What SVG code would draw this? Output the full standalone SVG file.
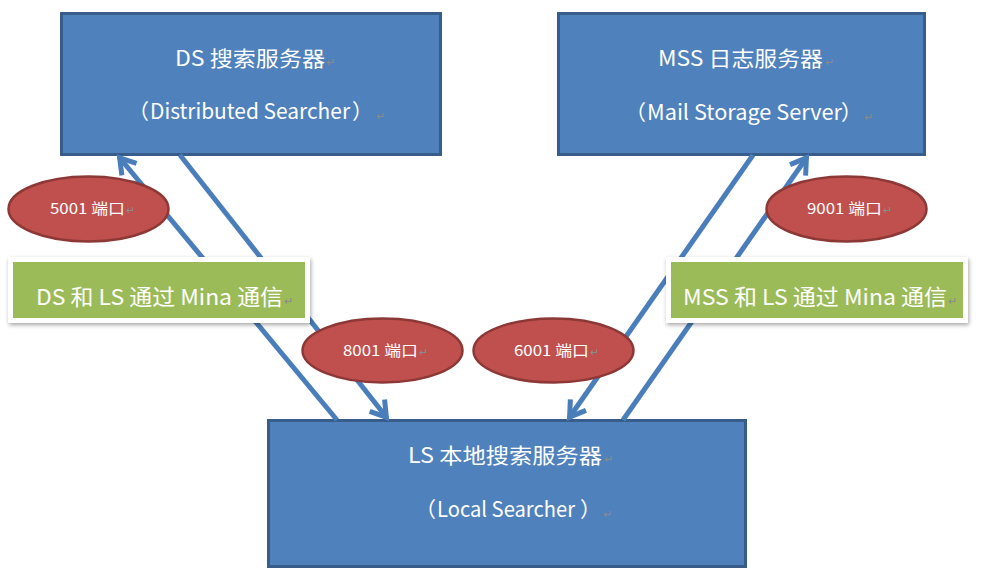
<svg xmlns="http://www.w3.org/2000/svg" width="985" height="580" viewBox="0 0 985 580">
<style>
.box{fill:#4f81bd;stroke:#385d8a;stroke-width:3}
.port{fill:#c0504d;stroke:#8c3836;stroke-width:2.5}
.note{fill:#9bbb59}
.noteBg{fill:#ffffff}
.conn{stroke:#4a7ebb;stroke-width:5;fill:none;stroke-linecap:butt}
text{font-family:"Noto Sans CJK SC","Noto Sans",sans-serif;fill:#ffffff}
.t20{font-size:21px}
.t15{font-size:15px}
.t21{font-size:22px}
.pm{fill:#8a8a8a;font-size:11px}
</style>
<defs>
<marker id="arr" markerUnits="userSpaceOnUse" markerWidth="30" markerHeight="30" viewBox="-20 -15 30 30" refX="1" refY="0" orient="auto">
<path d="M -15 -9.5 L 0 0 L -15 9.5" fill="none" stroke="#4a7ebb" stroke-width="5" stroke-linejoin="miter"/>
</marker>
<filter id="sh" x="-10%" y="-30%" width="120%" height="160%">
<feGaussianBlur in="SourceAlpha" stdDeviation="2"/>
<feOffset dx="1" dy="2" result="b"/>
<feComponentTransfer><feFuncA type="linear" slope="0.35"/></feComponentTransfer>
<feMerge><feMergeNode/><feMergeNode in="SourceGraphic"/></feMerge>
</filter>
</defs>
<rect width="985" height="580" fill="#ffffff"/>

<g id="ds">
<rect class="box" x="61.5" y="13.5" width="379" height="141"/>
<text class="t20" x="175" y="66" textLength="150" lengthAdjust="spacingAndGlyphs">DS 搜索服务器</text>
<text class="pm" x="326" y="66">↵</text>
<text class="t20" x="149" y="119" text-anchor="end">（</text>
<text class="t20" x="150" y="119" textLength="200" lengthAdjust="spacingAndGlyphs">Distributed Searcher</text>
<text class="t20" x="352" y="119">）</text>
<text class="pm" x="376" y="120">↵</text>
</g>

<g id="mss">
<rect class="box" x="558.5" y="13.5" width="366" height="141"/>
<text class="t20" x="658" y="66" textLength="165" lengthAdjust="spacingAndGlyphs">MSS 日志服务器</text>
<text class="pm" x="825" y="66">↵</text>
<text class="t20" x="646" y="120" text-anchor="end">（</text>
<text class="t20" x="647" y="120" textLength="195" lengthAdjust="spacingAndGlyphs">Mail Storage Server</text>
<text class="t20" x="841" y="120">）</text>
<text class="pm" x="864" y="121">↵</text>
</g>

<g id="ls">
<rect class="box" x="268.5" y="420.5" width="477" height="146"/>
<text class="t20" x="408" y="463" textLength="194" lengthAdjust="spacingAndGlyphs">LS 本地搜索服务器</text>
<text class="pm" x="604" y="463">↵</text>
<text class="t20" x="436" y="517" text-anchor="end">（</text>
<text class="t20" x="437" y="517" textLength="138" lengthAdjust="spacingAndGlyphs">Local Searcher</text>
<text class="t20" x="580" y="517">）</text>
<text class="pm" x="603" y="518">↵</text>
</g>

<g id="connectors">
<line class="conn" x1="337" y1="420" x2="119" y2="157" marker-end="url(#arr)"/>
<line class="conn" x1="180" y1="155" x2="387" y2="418" marker-end="url(#arr)"/>
<line class="conn" x1="753" y1="155" x2="569" y2="418" marker-end="url(#arr)"/>
<line class="conn" x1="623" y1="420" x2="807" y2="157" marker-end="url(#arr)"/>
</g>

<g id="port5001">
<ellipse class="port" cx="88.5" cy="209" rx="80" ry="32.5"/>
<text class="t15" x="50" y="214" textLength="75" lengthAdjust="spacingAndGlyphs">5001 端口</text>
<text class="pm" x="126" y="214">↵</text>
</g>
<g id="port8001">
<ellipse class="port" cx="382.5" cy="350.5" rx="80" ry="32"/>
<text class="t15" x="343" y="356" textLength="75" lengthAdjust="spacingAndGlyphs">8001 端口</text>
<text class="pm" x="419" y="356">↵</text>
</g>
<g id="port6001">
<ellipse class="port" cx="553.5" cy="350.5" rx="80" ry="32"/>
<text class="t15" x="514" y="356" textLength="75" lengthAdjust="spacingAndGlyphs">6001 端口</text>
<text class="pm" x="590" y="356">↵</text>
</g>
<g id="port9001">
<ellipse class="port" cx="846.5" cy="209" rx="80" ry="32.5"/>
<text class="t15" x="807" y="214" textLength="75" lengthAdjust="spacingAndGlyphs">9001 端口</text>
<text class="pm" x="883" y="214">↵</text>
</g>

<g id="noteDS">
<rect class="noteBg" x="8" y="257" width="302" height="66" filter="url(#sh)"/>
<rect class="note" x="13" y="262" width="292" height="56"/>
<text class="t21" x="36" y="305" textLength="247" lengthAdjust="spacingAndGlyphs">DS 和 LS 通过 Mina 通信</text>
<text class="pm" x="284" y="305">↵</text>
</g>
<g id="noteMSS">
<rect class="noteBg" x="666" y="257" width="302" height="66" filter="url(#sh)"/>
<rect class="note" x="671" y="262" width="292" height="56"/>
<text class="t21" x="683" y="305" textLength="264" lengthAdjust="spacingAndGlyphs">MSS 和 LS 通过 Mina 通信</text>
<text class="pm" x="948" y="305">↵</text>
</g>
</svg>
